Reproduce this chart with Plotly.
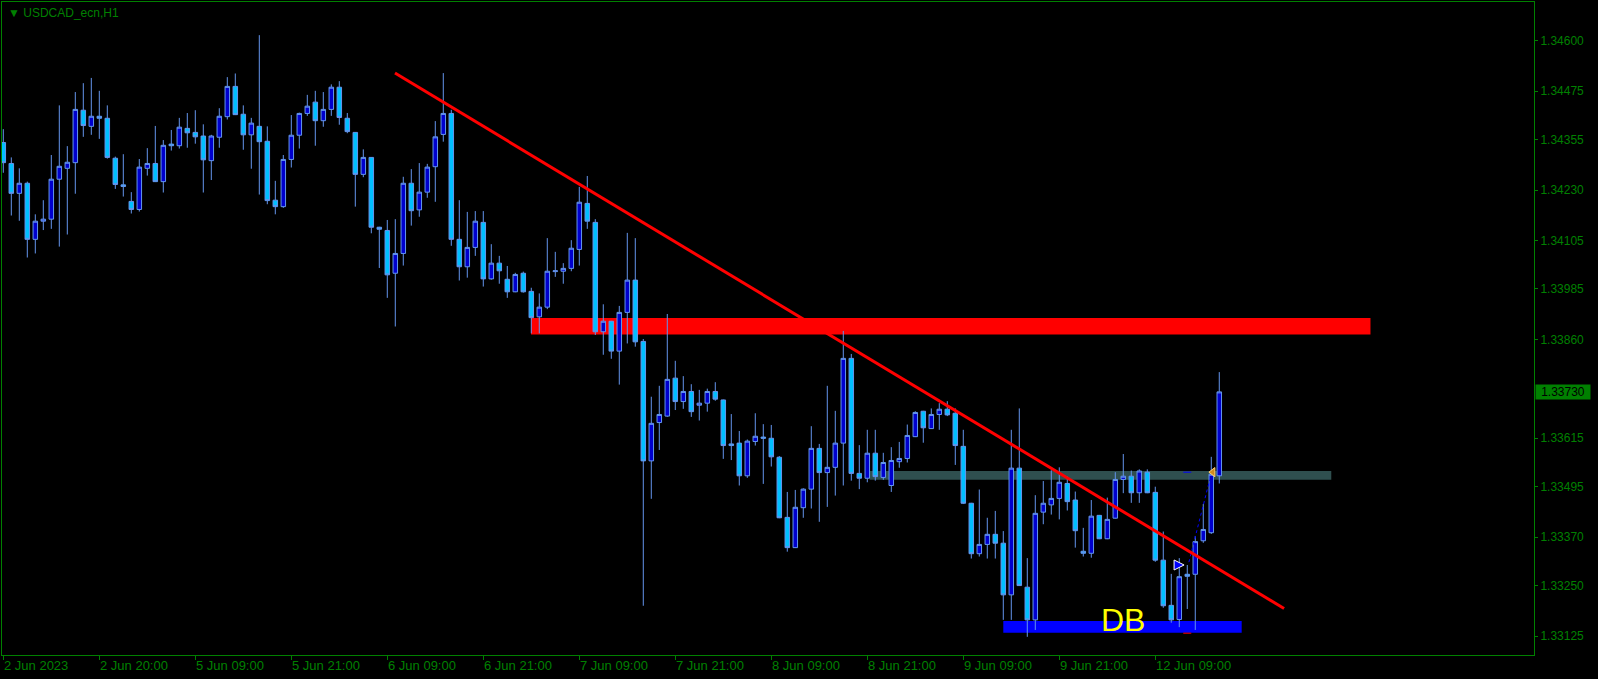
import plotly.graph_objects as go

# ---------------- data (USDCAD_ecn, H1) ----------------
bars = list(range(153))

opens = [1.34348, 1.34296, 1.34222, 1.34247, 1.34108, 1.34153, 1.34158, 1.34257, 1.34284, 1.34298,
         1.34428, 1.34388, 1.34413, 1.34408, 1.34309, 1.34243, 1.34202, 1.34182, 1.34284, 1.34296,
         1.34251, 1.34344, 1.34340, 1.34383, 1.34373, 1.34364, 1.34303, 1.34361, 1.34412, 1.34487,
         1.34418, 1.34367, 1.34388, 1.34351, 1.34205, 1.34189, 1.34306, 1.34366, 1.34420, 1.34448,
         1.34402, 1.34430, 1.34485, 1.34408, 1.34373, 1.34269, 1.34311, 1.34138, 1.34130, 1.34024,
         1.34073, 1.34247, 1.34181, 1.34225, 1.34288, 1.34368, 1.34420, 1.34108, 1.34040, 1.34088,
         1.34150, 1.34010, 1.34049, 1.34009, 1.33978, 1.34024, 1.33979, 1.33916, 1.33940, 1.34028,
         1.34029, 1.34036, 1.34083, 1.34197, 1.34150, 1.33879, 1.33905, 1.33831, 1.33927, 1.34007,
         1.33855, 1.33559, 1.33654, 1.33670, 1.33764, 1.33706, 1.33731, 1.33697, 1.33702, 1.33731,
         1.33710, 1.33601, 1.33603, 1.33522, 1.33607, 1.33618, 1.33615, 1.33568, 1.33419, 1.33344,
         1.33443, 1.33489, 1.33590, 1.33530, 1.33543, 1.33603, 1.33813, 1.33528, 1.33516, 1.33578,
         1.33518, 1.33498, 1.33557, 1.33565, 1.33619, 1.33682, 1.33639, 1.33674, 1.33687, 1.33677,
         1.33595, 1.33454, 1.33329, 1.33352, 1.33377, 1.33355, 1.33227, 1.33541, 1.33246, 1.33165,
         1.33432, 1.33450, 1.33466, 1.33503, 1.33462, 1.33335, 1.33330, 1.33424, 1.33366, 1.33417,
         1.33513, 1.33521, 1.33480, 1.33531, 1.33481, 1.33313, 1.33201, 1.33166, 1.33278, 1.33278,
         1.33361, 1.33381, 1.33522]

highs = [1.34381, 1.34311, 1.34284, 1.34251, 1.34170, 1.34205, 1.34317, 1.34440, 1.34339, 1.34473,
         1.34495, 1.34508, 1.34476, 1.34440, 1.34313, 1.34319, 1.34225, 1.34307, 1.34334, 1.34389,
         1.34354, 1.34379, 1.34409, 1.34421, 1.34428, 1.34393, 1.34367, 1.34433, 1.34510, 1.34519,
         1.34440, 1.34409, 1.34614, 1.34388, 1.34253, 1.34317, 1.34416, 1.34422, 1.34466, 1.34476,
         1.34473, 1.34492, 1.34500, 1.34421, 1.34374, 1.34331, 1.34312, 1.34139, 1.34156, 1.34158,
         1.34263, 1.34282, 1.34297, 1.34295, 1.34401, 1.34520, 1.34429, 1.34205, 1.34176, 1.34178,
         1.34178, 1.34096, 1.34067, 1.34042, 1.34025, 1.34028, 1.33988, 1.33974, 1.34111, 1.34077,
         1.34049, 1.34106, 1.34238, 1.34265, 1.34158, 1.33947, 1.33906, 1.33943, 1.34124, 1.34111,
         1.33861, 1.33718, 1.33745, 1.33923, 1.33807, 1.33769, 1.33749, 1.33735, 1.33738, 1.33754,
         1.33711, 1.33675, 1.33633, 1.33612, 1.33677, 1.33650, 1.33648, 1.33571, 1.33482, 1.33487,
         1.33491, 1.33645, 1.33601, 1.33745, 1.33683, 1.33881, 1.33824, 1.33598, 1.33636, 1.33636,
         1.33579, 1.33593, 1.33606, 1.33649, 1.33682, 1.33683, 1.33689, 1.33702, 1.33707, 1.33689,
         1.33636, 1.33455, 1.33488, 1.33418, 1.33435, 1.33385, 1.33636, 1.33689, 1.33318, 1.33474,
         1.33509, 1.33536, 1.33543, 1.33520, 1.33483, 1.33393, 1.33462, 1.33425, 1.33468, 1.33531,
         1.33576, 1.33535, 1.33538, 1.33538, 1.33495, 1.33384, 1.33279, 1.33318, 1.33301, 1.33373,
         1.33452, 1.33569, 1.33779]

lows = [1.34273, 1.34167, 1.34154, 1.34063, 1.34073, 1.34131, 1.34134, 1.34090, 1.34120, 1.34221,
        1.34362, 1.34367, 1.34357, 1.34308, 1.34233, 1.34214, 1.34172, 1.34177, 1.34266, 1.34250,
        1.34224, 1.34328, 1.34333, 1.34335, 1.34345, 1.34224, 1.34255, 1.34335, 1.34405, 1.34416,
        1.34330, 1.34283, 1.34219, 1.34195, 1.34170, 1.34186, 1.34286, 1.34333, 1.34414, 1.34340,
        1.34387, 1.34414, 1.34392, 1.34371, 1.34189, 1.34262, 1.34123, 1.34037, 1.33963, 1.33892,
        1.34043, 1.34142, 1.34164, 1.34211, 1.34201, 1.34350, 1.34092, 1.34006, 1.34013, 1.34067,
        1.33991, 1.34008, 1.33998, 1.33963, 1.33977, 1.33976, 1.33875, 1.33875, 1.33935, 1.34015,
        1.33998, 1.34029, 1.34043, 1.34134, 1.33871, 1.33822, 1.33812, 1.33748, 1.33850, 1.33842,
        1.33200, 1.33465, 1.33586, 1.33668, 1.33685, 1.33688, 1.33668, 1.33659, 1.33681, 1.33708,
        1.33564, 1.33561, 1.33498, 1.33517, 1.33597, 1.33502, 1.33545, 1.33417, 1.33334, 1.33343,
        1.33418, 1.33441, 1.33408, 1.33445, 1.33473, 1.33498, 1.33510, 1.33489, 1.33506, 1.33510,
        1.33512, 1.33482, 1.33542, 1.33555, 1.33618, 1.33604, 1.33638, 1.33636, 1.33670, 1.33549,
        1.33452, 1.33317, 1.33322, 1.33317, 1.33317, 1.33165, 1.33165, 1.33249, 1.33123, 1.33140,
        1.33402, 1.33426, 1.33414, 1.33436, 1.33344, 1.33322, 1.33319, 1.33365, 1.33365, 1.33416,
        1.33479, 1.33455, 1.33455, 1.33479, 1.33309, 1.33195, 1.33158, 1.33147, 1.33192, 1.33140,
        1.33356, 1.33378, 1.33503]

closes = [1.34298, 1.34222, 1.34247, 1.34108, 1.34153, 1.34158, 1.34257, 1.34289, 1.34299, 1.34430,
          1.34390, 1.34413, 1.34408, 1.34311, 1.34244, 1.34239, 1.34182, 1.34287, 1.34296, 1.34251,
          1.34341, 1.34340, 1.34386, 1.34372, 1.34362, 1.34305, 1.34364, 1.34413, 1.34487, 1.34417,
          1.34367, 1.34396, 1.34350, 1.34204, 1.34189, 1.34306, 1.34366, 1.34420, 1.34438, 1.34402,
          1.34430, 1.34485, 1.34410, 1.34375, 1.34269, 1.34311, 1.34138, 1.34133, 1.34020, 1.34073,
          1.34247, 1.34179, 1.34225, 1.34287, 1.34362, 1.34420, 1.34108, 1.34040, 1.34088, 1.34153,
          1.34010, 1.34049, 1.34030, 1.33978, 1.34021, 1.33978, 1.33914, 1.33940, 1.34029, 1.34030,
          1.34036, 1.34086, 1.34200, 1.34153, 1.33879, 1.33905, 1.33831, 1.33927, 1.34007, 1.33854,
          1.33559, 1.33652, 1.33674, 1.33761, 1.33706, 1.33731, 1.33681, 1.33702, 1.33731, 1.33712,
          1.33597, 1.33597, 1.33522, 1.33608, 1.33620, 1.33615, 1.33569, 1.33418, 1.33344, 1.33444,
          1.33489, 1.33590, 1.33530, 1.33543, 1.33603, 1.33813, 1.33528, 1.33516, 1.33578, 1.33520,
          1.33555, 1.33560, 1.33565, 1.33622, 1.33679, 1.33641, 1.33674, 1.33687, 1.33673, 1.33597,
          1.33454, 1.33329, 1.33352, 1.33377, 1.33355, 1.33227, 1.33541, 1.33250, 1.33165, 1.33429,
          1.33454, 1.33466, 1.33506, 1.33458, 1.33386, 1.33330, 1.33422, 1.33366, 1.33414, 1.33513,
          1.33521, 1.33480, 1.33534, 1.33480, 1.33313, 1.33200, 1.33165, 1.33272, 1.33273, 1.33359,
          1.33389, 1.33526, 1.33730]

date_tick_bars = [0, 12, 24, 36, 48, 60, 72, 84, 96, 108, 120, 132, 144]
date_tick_labels = ["2 Jun 2023", "2 Jun 20:00", "5 Jun 09:00", "5 Jun 21:00", "6 Jun 09:00",
                    "6 Jun 21:00", "7 Jun 09:00", "7 Jun 21:00", "8 Jun 09:00", "8 Jun 21:00",
                    "9 Jun 09:00", "9 Jun 21:00", "12 Jun 09:00"]

price_ticks = [1.34600, 1.34475, 1.34355, 1.34230, 1.34105, 1.33985, 1.33860,
               1.33615, 1.33495, 1.33370, 1.33250, 1.33125]
last_price = 1.33730

# chart objects (bar index / price)
resistance_zone_bars = [65.96, 170.9]
resistance_zone_prices = [1.33872, 1.33913]
neckline_zone_bars = [108.3, 166.0]
neckline_zone_prices = [1.33512, 1.33534]
support_zone_bars = [125.0, 154.8]
support_zone_prices = [1.33133, 1.33162]
trendline_bars = [48.96, 160.1]
trendline_prices = [1.34520, 1.33193]
db_label_bar = 140.0
db_label_price = 1.33165
buy_arrow_bar, buy_arrow_price = 147.6, 1.33301
close_arrow_bar, close_arrow_price = 151.2, 1.33531
order_link_bars = [148.2, 150.8]
order_link_prices = [1.33308, 1.33512]
stop_level_price = 1.33132
target_level_price = 1.33531
level_mark_bars = [147.5, 148.5]

# ---------------- styling ----------------
GREEN = "#008000"
FONT = "Liberation Sans"

fig = go.Figure()

fig.add_trace(go.Candlestick(
    x=bars, open=opens, high=highs, low=lows, close=closes,
    increasing=dict(fillcolor="#0000CD", line=dict(color="#6495ED", width=1)),
    decreasing=dict(fillcolor="#00BFFF", line=dict(color="#6495ED", width=1)),
    whiskerwidth=0, showlegend=False, hoverinfo="skip",
))

# order link (dotted) and trade arrows
fig.add_trace(go.Scatter(x=order_link_bars, y=order_link_prices, mode="lines",
                         line=dict(color="#0000FF", width=1, dash="dot"),
                         showlegend=False, hoverinfo="skip"))
fig.add_trace(go.Scatter(x=[buy_arrow_bar], y=[buy_arrow_price], mode="markers",
                         marker=dict(symbol="arrow-right", size=10, color="#0000FF",
                                     line=dict(color="#FFFFFF", width=1)),
                         showlegend=False, hoverinfo="skip"))
fig.add_trace(go.Scatter(x=[close_arrow_bar], y=[close_arrow_price], mode="markers",
                         marker=dict(symbol="triangle-left", size=8, color="#D08A20",
                                     line=dict(color="#FFD070", width=1)),
                         showlegend=False, hoverinfo="skip"))

shapes = [
    dict(type="rect", xref="x", yref="y", layer="below",
         x0=resistance_zone_bars[0], x1=resistance_zone_bars[1],
         y0=resistance_zone_prices[0], y1=resistance_zone_prices[1],
         fillcolor="#FF0000", line=dict(width=0)),
    dict(type="rect", xref="x", yref="y", layer="below",
         x0=neckline_zone_bars[0], x1=neckline_zone_bars[1],
         y0=neckline_zone_prices[0], y1=neckline_zone_prices[1],
         fillcolor="#2F4F4F", line=dict(width=0)),
    dict(type="rect", xref="x", yref="y", layer="below",
         x0=support_zone_bars[0], x1=support_zone_bars[1],
         y0=support_zone_prices[0], y1=support_zone_prices[1],
         fillcolor="#0000FF", line=dict(width=0)),
    dict(type="line", xref="x", yref="y", layer="above",
         x0=trendline_bars[0], x1=trendline_bars[1],
         y0=trendline_prices[0], y1=trendline_prices[1],
         line=dict(color="#FF0000", width=3)),
    dict(type="line", xref="x", yref="y", layer="above",
         x0=level_mark_bars[0], x1=level_mark_bars[1],
         y0=stop_level_price, y1=stop_level_price,
         line=dict(color="#FF0000", width=1)),
    dict(type="line", xref="x", yref="y", layer="above",
         x0=level_mark_bars[0], x1=level_mark_bars[1],
         y0=target_level_price, y1=target_level_price,
         line=dict(color="#0000FF", width=1)),
]

annotations = []
for b, lab in zip(date_tick_bars, date_tick_labels):
    annotations.append(dict(x=b, xref="x", y=-0.0155, yref="paper", text=lab,
                            showarrow=False, xanchor="left", yanchor="middle",
                            xshift=-1, font=dict(family=FONT, size=13, color=GREEN)))
annotations.append(dict(x=0.0025, xref="paper", y=0.9836, yref="paper",
                        text="▼ USDCAD_ecn,H1", showarrow=False, xanchor="left",
                        yanchor="middle", font=dict(family=FONT, size=12, color=GREEN)))
annotations.append(dict(x=1.0007, xref="paper", y=last_price, yref="y",
                        text=f"{last_price:.5f}", showarrow=False, xanchor="left",
                        yanchor="middle", bgcolor=GREEN, width=54, height=14, align="center",
                        borderpad=0, font=dict(family=FONT, size=12, color="#000000")))
annotations.append(dict(x=db_label_bar, xref="x", y=db_label_price, yref="y",
                        text="DB", showarrow=False, xanchor="center", yanchor="middle",
                        font=dict(family=FONT, size=32, color="#FFFF00")))

fig.update_layout(
    width=1598, height=679,
    margin=dict(l=2, r=64, t=2, b=24),
    paper_bgcolor="#000000", plot_bgcolor="#000000",
    showlegend=False,
    boxgap=0.25, boxgroupgap=0.25,
    shapes=shapes, annotations=annotations,
    xaxis=dict(range=[-0.1625, 191.34], showgrid=False, zeroline=False,
               rangeslider=dict(visible=False),
               showline=True, mirror=True, linecolor=GREEN, linewidth=1,
               tickmode="array", tickvals=date_tick_bars, ticks="outside",
               ticklen=4, tickcolor=GREEN, showticklabels=False),
    yaxis=dict(range=[1.3307795, 1.3469615], side="right", showgrid=False, zeroline=False,
               showline=True, mirror=True, linecolor=GREEN, linewidth=1,
               tickmode="array", tickvals=price_ticks,
               ticktext=[f"{v:.5f}" for v in price_ticks],
               ticks="outside", ticklen=3, tickcolor=GREEN,
               tickfont=dict(family=FONT, size=12, color=GREEN)),
)

fig.write_html("out.html", config={"displayModeBar": False},
               post_script="document.body.style.margin='0px';document.body.style.background='#000000';")
